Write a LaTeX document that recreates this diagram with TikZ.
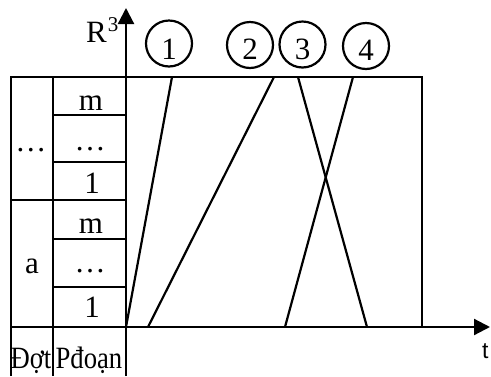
\documentclass[tikz,border=0pt]{standalone}
\usepackage{fontspec}
\usepackage{graphicx}
\setmainfont{Liberation Serif}
\newfontfamily\sansf{Liberation Sans}
\usetikzlibrary{arrows.meta}
\begin{document}
\begin{tikzpicture}[x=1pt,y=-1pt,line width=2.2pt,
  txt/.style={font=\fontsize{31}{36}\selectfont,inner sep=0pt,anchor=base},
  numcirc/.style={circle,draw,line width=2.2pt,minimum size=46pt,inner sep=0pt},
  axarrow/.style={-{Triangle[width=16pt,length=16pt]}},
  gridline/.style={line width=2.2pt},
  trace/.style={line width=2.2pt}]
\useasboundingbox (0,0) rectangle (491,376);
% coordinates
\coordinate (ybot) at (126,376);
\coordinate (ytop) at (126,8);
\coordinate (xleft) at (11,327);
\coordinate (xright) at (490,327);
\coordinate (fbl) at (11,376);
\coordinate (ftl) at (11,77);
\coordinate (ftr) at (422,77);
\coordinate (fbr) at (422,327);
\coordinate (c2t) at (53,77);
\coordinate (c2b) at (53,376);
% frame and grid
\draw[gridline] (fbl) -- (ftl) -- (ftr) -- (fbr);
\draw[gridline] (c2t) -- (c2b);
\coordinate (h0a) at (11,200); \coordinate (h0b) at (126,200);
\draw[gridline] (h0a) -- (h0b);
\foreach \yy [count=\i] in {115,162,239,287}{
  \coordinate (ha\i) at (53,\yy); \coordinate (hb\i) at (126,\yy);
  \draw[gridline] (ha\i) -- (hb\i);
}
% axes
\draw[axarrow] (ybot) -- (ytop);
\draw[axarrow] (xleft) -- (xright);
% traces
\coordinate (b1) at (126,327); \coordinate (t1) at (172,77);
\coordinate (b2) at (148,327); \coordinate (t2) at (274,77);
\coordinate (t3) at (298,77);  \coordinate (b3) at (367,327);
\coordinate (t4) at (353,77);  \coordinate (b4) at (285,327);
\draw[trace] (b1) -- (t1);
\draw[trace] (b2) -- (t2);
\draw[trace] (t3) -- (b3);
\draw[trace] (t4) -- (b4);
% circles
\node[numcirc] (c1) at (169,43.5) {};
\node[numcirc] (c2) at (250,45) {};
\node[numcirc] (c3) at (302.5,44.5) {};
\node[numcirc] (c4) at (366,46) {};
\node[txt] (n1) at (169,59) {1};
\node[txt] (n2) at (250,59.5) {2};
\node[txt] (n3) at (302.5,59.5) {3};
\node[txt] (n4) at (366,60) {4};
% axis labels
\node[txt,anchor=base west] (rlab) at (85,42) {R\kern1pt\raisebox{11pt}{\fontsize{21}{22}\selectfont 3}};
\node[font=\sansf\fontsize{23}{26}\selectfont,inner sep=0pt,anchor=base west] (tlab) at (481,358) {t};
% column labels
\node[txt] (pm1) at (91,110) {m};
\node[txt] (pd1) at (90,150) {…};
\node[txt] (p11) at (92,193) {1};
\node[txt] (pm2) at (91,233) {m};
\node[txt] (pd2) at (90,272) {…};
\node[txt] (p12) at (92,317) {1};
\node[txt] (dd) at (31,151) {…};
\node[txt] (da) at (32,273) {a};
\node[txt] (dot) at (31,368) {\scalebox{0.86}[1]{Đợt}};
\node[txt] (pdoan) at (89,368) {\scalebox{0.86}[1]{Pđoạn}};
\end{tikzpicture}
\end{document}
